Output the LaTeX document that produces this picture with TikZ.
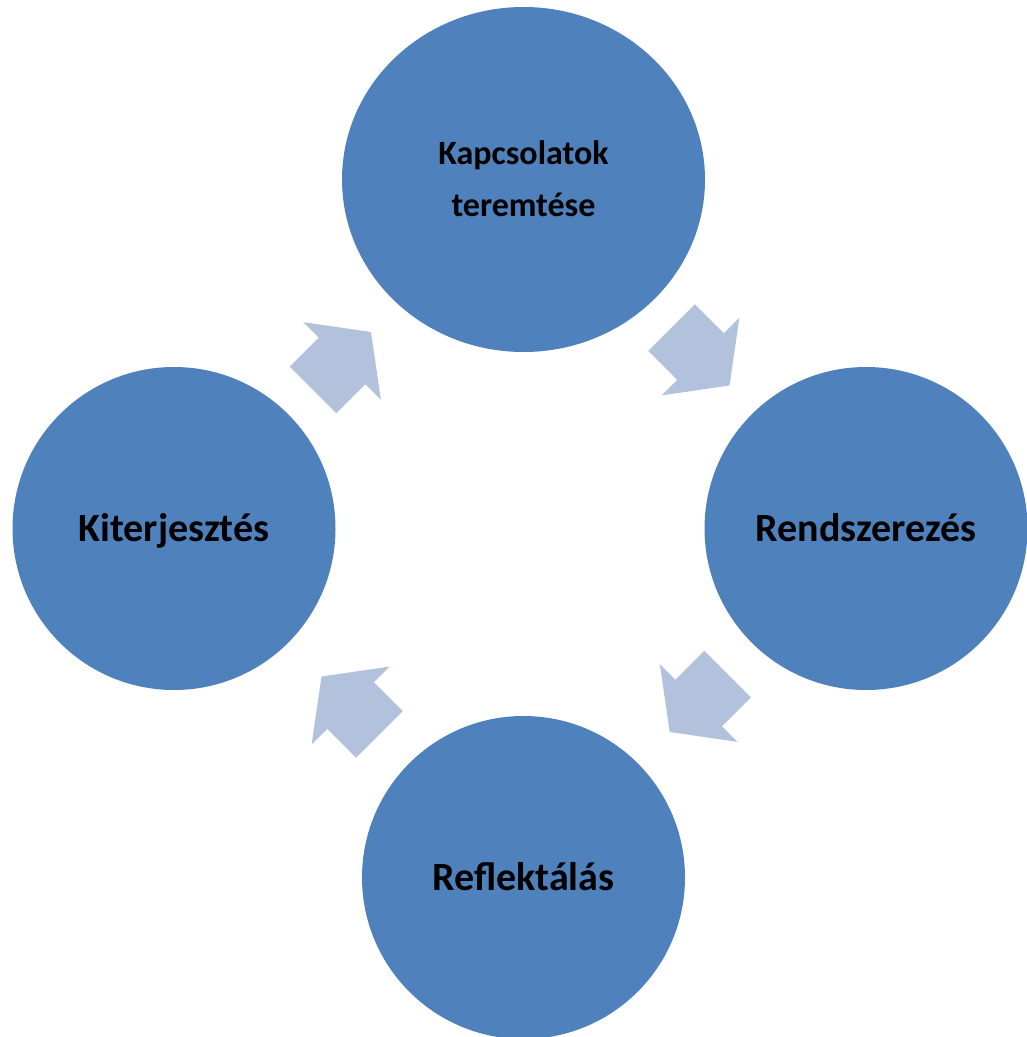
\documentclass[tikz,border=0pt]{standalone}
\usepackage{fontspec}
\setmainfont{Carlito}
\usetikzlibrary{shapes.geometric}
\definecolor{korkek}{HTML}{4F81BD}
\definecolor{nyilkek}{HTML}{B3C2DC}
\begin{document}
\begin{tikzpicture}[x=0.75pt,y=0.75pt,line join=round,
	kor/.style={circle,fill=korkek,inner sep=0pt,minimum size=242.25pt},
	felirat/.style={font=\bfseries\fontsize{30}{36}\selectfont,text height=19pt,text depth=0pt}]
	\useasboundingbox (0,0) rectangle (1026,-1037);
	\path
	(523.5,-179.5) coordinate (K)
	(866,-528.5) coordinate (R)
	(523.5,-877.5) coordinate (F)
	(174,-528.5) coordinate (T)
	(342,-361) coordinate (A1)
	(700.5,-356.5) coordinate (A2)
	(698.7,-703) coordinate (A3)
	(350.5,-705.5) coordinate (A4);
	\node[ellipse,fill=korkek,inner sep=0pt,minimum width=272.25pt,minimum height=258.75pt,
		align=center,font=\bfseries\fontsize{25.5}{39}\selectfont,text height=55pt,text depth=0pt] (kapcs) at (K) {Kapcsolatok\\teremtése};
	\node[kor,felirat] (rendsz) at (R) {Rendszerezés};
	\node[kor,felirat] (reflekt) at (F) {Reflektálás};
	\node[kor,felirat] (kiterj) at (T) {Kiterjesztés};
	\foreach \p/\a in {A1/45, A2/-45, A3/-135, A4/135}
		\fill[nyilkek,shift={(\p)},rotate=\a] (-41,-33)--(0,-33)--(0,-55)--(41,0)--(0,55)--(0,33)--(-41,33)--cycle;
\end{tikzpicture}
\end{document}
